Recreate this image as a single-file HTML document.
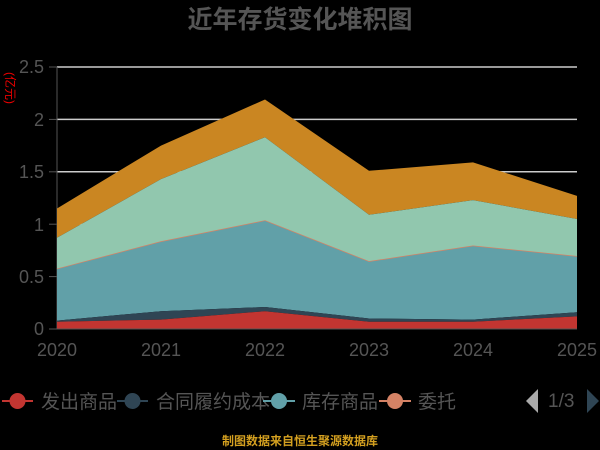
<!DOCTYPE html>
<html><head><meta charset="utf-8"><style>
html,body{margin:0;padding:0;background:#000;width:600px;height:450px;overflow:hidden}
svg{display:block;font-family:"Liberation Sans","Noto Sans CJK SC",sans-serif}
</style></head><body>
<svg width="600" height="450" viewBox="0 0 600 450">
<rect width="600" height="450" fill="#000"/>
<text x="300" y="28" text-anchor="middle" font-size="25" font-weight="bold" fill="#555">近年存货变化堆积图</text>
<g stroke="#ccc" stroke-width="1.5">
<line x1="57" y1="67" x2="577" y2="67"/><line x1="57" y1="119.4" x2="577" y2="119.4"/>
<line x1="57" y1="171.8" x2="577" y2="171.8"/><line x1="57" y1="224.2" x2="577" y2="224.2"/>
<line x1="57" y1="276.6" x2="577" y2="276.6"/>
</g>
<g fill="#555" font-size="18" text-anchor="end">
<text x="44" y="73">2.5</text><text x="44" y="126">2</text><text x="44" y="178">1.5</text>
<text x="44" y="231">1</text><text x="44" y="283">0.5</text><text x="44" y="335">0</text>
</g>
<g stroke="#555" stroke-width="1"><line x1="49" y1="67" x2="57" y2="67"/><line x1="49" y1="119.4" x2="57" y2="119.4"/><line x1="49" y1="171.8" x2="57" y2="171.8"/><line x1="49" y1="224.2" x2="57" y2="224.2"/><line x1="49" y1="276.6" x2="57" y2="276.6"/><line x1="49" y1="329" x2="57" y2="329"/><line x1="57" y1="67" x2="57" y2="329"/></g>
<text transform="translate(6,88) rotate(90)" font-size="12" fill="#e00" text-anchor="middle">(亿元)</text>
<polygon fill="#ca8622" points="57,208.5 161,145.6 265,99.5 369,170.8 473,162.4 577,195.9 577,219 473,200.1 369,214.8 265,137.2 161,179.1 57,237.8"/>
<polygon fill="#91c7ae" points="57,237.8 161,179.1 265,137.2 369,214.8 473,200.1 577,219 577,256.7 473,246.2 369,261.9 265,221 161,242 57,269.3"/>
<polyline fill="none" stroke="#d48265" stroke-width="1.5" points="57,269.3 161,242 265,221 369,261.9 473,246.2 577,256.7"/>
<polygon fill="#61a0a8" points="57,269.3 161,242 265,221 369,261.9 473,246.2 577,256.7 577,312.2 473,319.6 369,318.5 265,307 161,311.2 57,320.6"/>
<polygon fill="#2f4554" points="57,320.6 161,311.2 265,307 369,318.5 473,319.6 577,312.2 577,316.4 473,321.7 369,321.7 265,311.2 161,319.6 57,321.7"/>
<polygon fill="#c23531" points="57,321.7 161,319.6 265,311.2 369,321.7 473,321.7 577,316.4 577,329 57,329"/>
<line x1="57" y1="329" x2="577" y2="329" stroke="#555"/>
<g fill="#555" font-size="18" text-anchor="middle">
<text x="57" y="356">2020</text><text x="161" y="356">2021</text><text x="265" y="356">2022</text>
<text x="369" y="356">2023</text><text x="473" y="356">2024</text><text x="577" y="356">2025</text>
</g>
<g font-size="19" fill="#555">
<line x1="2" y1="401" x2="33" y2="401" stroke="#c23531" stroke-width="2"/><circle cx="17.5" cy="401" r="8" fill="#c23531"/><text x="41" y="408">发出商品</text>
<line x1="117" y1="401" x2="148" y2="401" stroke="#2f4554" stroke-width="2"/><circle cx="132.5" cy="401" r="8" fill="#2f4554"/><text x="156" y="408">合同履约成本</text>
<line x1="263" y1="401" x2="295" y2="401" stroke="#61a0a8" stroke-width="2"/><circle cx="279" cy="401" r="8" fill="#61a0a8"/><text x="302" y="408">库存商品</text>
<line x1="379" y1="401" x2="411" y2="401" stroke="#d48265" stroke-width="2"/><circle cx="395" cy="401" r="8" fill="#d48265"/><text x="418" y="408">委托</text>
<polygon points="538,389 538,413 526,401" fill="#aaa"/>
<text x="548" y="407">1/3</text>
<polygon points="587,389 587,413 599,401" fill="#2f4554"/>
</g>
<text x="300" y="445" text-anchor="middle" font-size="12" font-weight="bold" fill="#d4a020">制图数据来自恒生聚源数据库</text>
</svg>
</body></html>
